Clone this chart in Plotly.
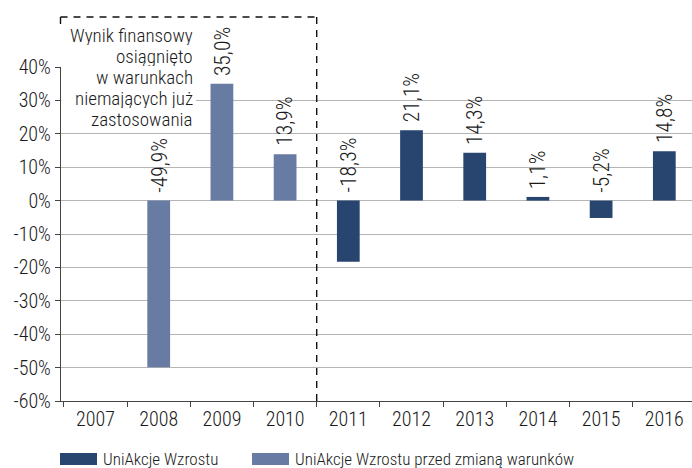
import plotly.graph_objects as go

years = ['2007', '2008', '2009', '2010', '2011', '2012', '2013', '2014', '2015', '2016']
old_years = ['2008', '2009', '2010']
old_values = [-49.9, 35.0, 13.9]
new_years = ['2011', '2012', '2013', '2014', '2015', '2016']
new_values = [-18.3, 21.1, 14.3, 1.1, -5.2, 14.8]
y_ticks = [-60, -50, -40, -30, -20, -10, 0, 10, 20, 30, 40]
series_names = ['UniAkcje Wzrostu', 'UniAkcje Wzrostu przed zmianą warunków']
note_lines = ['Wynik finansowy', 'osiągnięto', 'w warunkach', 'niemających już', 'zastosowania']

DARK = '#27456f'
LIGHT = '#687ba3'
FONT = 'Roboto Condensed, DejaVu Sans Condensed, Liberation Sans, sans-serif'
TXT = '#1a1a1a'
WGT = 300

W, H = 692, 468
L, R, T, B = 61, 692, 67, 401
XR = [-0.546, 9.438]
YR = [-60, 40]


def px_x(p):
    return (p - L) / (R - L)


def px_y(p):
    return (B - p) / (B - T)


def data_x_to_paper(v):
    return (v - XR[0]) / (XR[1] - XR[0])


def fmt(v):
    return ('%.1f' % v).replace('.', ',') + '%'


fig = go.Figure()
fig.add_trace(go.Bar(x=old_years, y=old_values, name=series_names[1],
                     marker=dict(color=LIGHT, line=dict(width=0)), width=0.36,
                     hoverinfo='skip', showlegend=False))
fig.add_trace(go.Bar(x=new_years, y=new_values, name=series_names[0],
                     marker=dict(color=DARK, line=dict(width=0)), width=0.36,
                     hoverinfo='skip', showlegend=False))

annotations = []
for yr, v in list(zip(old_years, old_values)) + list(zip(new_years, new_values)):
    annotations.append(dict(x=years.index(yr), y=max(v, 0), xref='x', yref='y', text=fmt(v),
                            textangle=-90, showarrow=False, xanchor='center',
                            yanchor='bottom', yshift=6,
                            font=dict(family=FONT, size=21.5, color=TXT, weight=WGT)))

# note text lines, right aligned
line_centers = [35, 56, 77, 98, 119]
for txt, cy in zip(note_lines, line_centers):
    annotations.append(dict(x=px_x(195), y=px_y(cy), xref='paper', yref='paper',
                            text=txt, showarrow=False, xanchor='right', yanchor='middle',
                            height=20, valign='middle',
                            font=dict(family=FONT, size=19, color=TXT, weight=WGT)))

# custom legend
leg_items = [(series_names[0], DARK, 60, 97, 101), (series_names[1], LIGHT, 252, 289, 293)]
shapes = []
for name, col, x0, x1, tx in leg_items:
    shapes.append(dict(type='rect', xref='paper', yref='paper', x0=px_x(x0), x1=px_x(x1),
                       y0=px_y(465), y1=px_y(453), fillcolor=col, line=dict(width=0),
                       layer='above'))
    annotations.append(dict(x=px_x(tx), y=px_y(459), xref='paper', yref='paper',
                            text=name, showarrow=False, xanchor='left', yanchor='middle',
                            font=dict(family=FONT, size=17, color=TXT, weight=WGT)))

# white background behind note
shapes.append(dict(type='rect', xref='paper', yref='paper', x0=px_x(61.5), x1=px_x(196),
                   y0=px_y(128), y1=px_y(23), fillcolor='white', line=dict(width=0),
                   layer='above'))
# dashed box (top, right, short left piece; the rest of the left side is the axis)
dash = dict(color='#111111', width=1.4, dash='7px,6px')
box_right = data_x_to_paper(3.5)
box_top = px_y(17)
shapes.append(dict(type='line', xref='paper', yref='paper', x0=px_x(60.5), x1=box_right,
                   y0=box_top, y1=box_top, line=dash, layer='above'))
shapes.append(dict(type='line', xref='paper', yref='paper', x0=box_right, x1=box_right,
                   y0=box_top, y1=0, line=dash, layer='above'))
shapes.append(dict(type='line', xref='paper', yref='paper', x0=px_x(60.5), x1=px_x(60.5),
                   y0=box_top, y1=px_y(25), line=dash, layer='above'))

tickfont = dict(family=FONT, size=20, color=TXT, weight=WGT)
fig.update_layout(
    width=W, height=H,
    margin=dict(l=L, r=W - R, t=T, b=H - B, pad=0),
    paper_bgcolor='white', plot_bgcolor='white',
    barmode='overlay', showlegend=False,
    font=dict(family=FONT, size=20, color=TXT),
    annotations=annotations, shapes=shapes,
    xaxis=dict(type='category', categoryorder='array', categoryarray=years,
               range=XR, showgrid=False, zeroline=False, showline=True,
               linecolor='#444444', linewidth=1.2, ticks='outside', tickson='boundaries',
               ticklen=5, tickcolor='#444444', tickfont=tickfont, fixedrange=True),
    yaxis=dict(range=YR, tickvals=y_ticks, ticktext=['%d%%' % t for t in y_ticks],
               showgrid=True, gridcolor='#b5b5b5', gridwidth=1, zeroline=False,
               showline=True, linecolor='#444444', linewidth=1.2, ticks='outside',
               ticklen=5, tickcolor='#444444', tickfont=tickfont, fixedrange=True),
)

fig.write_html('out.html', config={'displayModeBar': False})
